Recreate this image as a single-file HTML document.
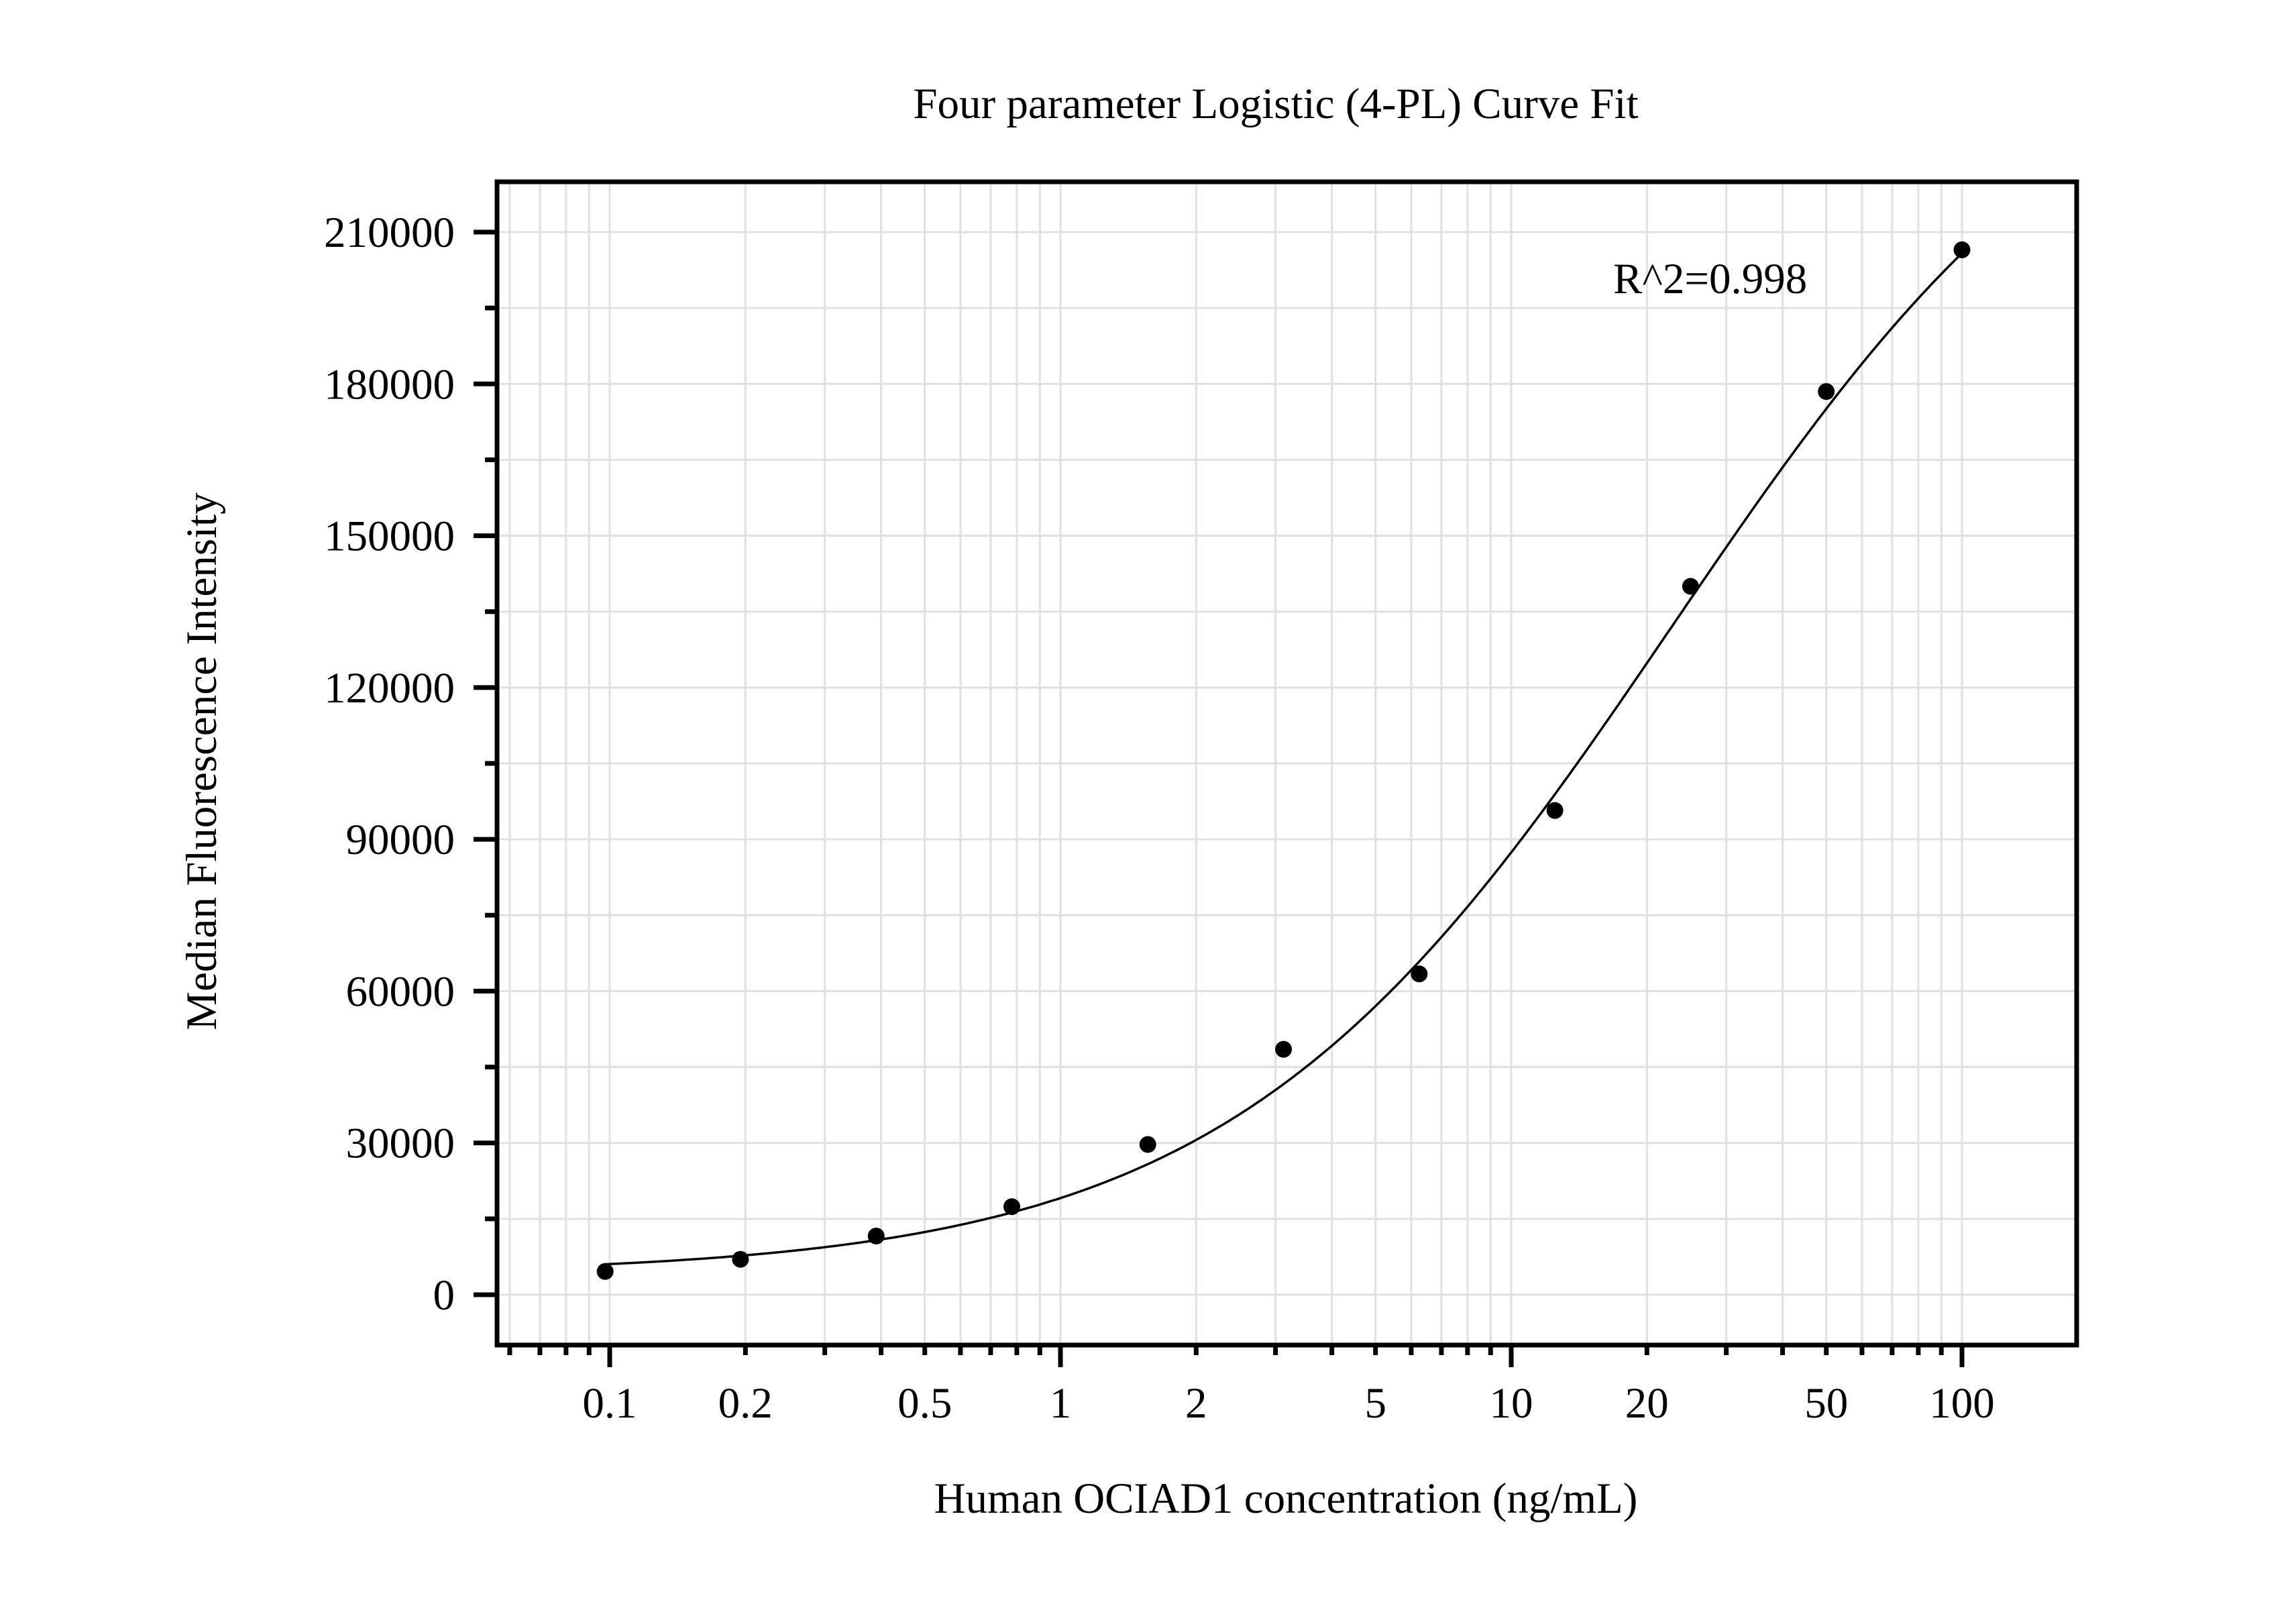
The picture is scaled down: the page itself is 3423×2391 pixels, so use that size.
<!DOCTYPE html>
<html><head><meta charset="utf-8"><style>
body{margin:0;background:#fff}
svg{display:block}
text{font-family:"Liberation Serif","Times New Roman",serif;fill:#000}
</style></head><body>
<svg id="chart" width="3423" height="2391" xmlns="http://www.w3.org/2000/svg">
<rect width="3423" height="2391" fill="#fff"/>
<g id="grid"></g>
<g id="axes"></g>
<g id="series"></g>
<rect x="741" y="271" width="2355" height="1734" fill="none" stroke="#000" stroke-width="7"/>
<text x="1902" y="176" font-size="65" text-anchor="middle">Four parameter Logistic (4-PL) Curve Fit</text>
<text x="1917" y="2255" font-size="65" text-anchor="middle">Human OCIAD1 concentration (ng/mL)</text>
<text transform="translate(322,1135) rotate(-90)" font-size="65" text-anchor="middle">Median Fluorescence Intensity</text>
<text x="2405" y="437" font-size="65">R^2=0.998</text>
</svg>
<script>
const concentrations = [0.0977, 0.195, 0.39, 0.78, 1.5625, 3.125, 6.25, 12.5, 25, 50, 100];
const intensities = [4600, 7000, 11600, 17400, 29700, 48500, 63400, 95700, 140000, 178500, 206500];
const fitParams = [4000, 0.887, 22.7, 260000]; // A, B, C, D of 4-PL
const xTickValues = [0.1, 0.2, 0.5, 1, 2, 5, 10, 20, 50, 100];
const xTickLabels = ["0.1", "0.2", "0.5", "1", "2", "5", "10", "20", "50", "100"];
const yTickValues = [0, 30000, 60000, 90000, 120000, 150000, 180000, 210000];
const yTickLabels = ["0", "30000", "60000", "90000", "120000", "150000", "180000", "210000"];

const NS = "http://www.w3.org/2000/svg";
const X0 = 909, DEC = 672, Y0 = 1930, YS = (1930 - 346) / 210000;
const PL = 744, PR = 3093, PT = 275, PB = 2002;
function sx(v) { return X0 + DEC * Math.log10(v / 0.1); }
function sy(v) { return Y0 - v * YS; }
function mk(tag, attrs, parent) {
  const e = document.createElementNS(NS, tag);
  for (const k in attrs) e.setAttribute(k, attrs[k]);
  parent.appendChild(e);
  return e;
}
const grid = document.getElementById('grid');
const axes = document.getElementById('axes');
const series = document.getElementById('series');

const minorX = [];
for (let d = -2; d <= 2; d++) {
  for (let m = 1; m <= 9; m++) {
    const v = m * Math.pow(10, d);
    if (v >= 0.06 - 1e-9 && v <= 100 + 1e-9) minorX.push(v);
  }
}
minorX.forEach(v => {
  const x = sx(v);
  const g = mk('line', {x1: x, x2: x, y1: PT, y2: PB, stroke: '#e0e0e0', 'stroke-width': 3}, grid);
  
  
  const major = Math.abs(Math.log10(v) - Math.round(Math.log10(v))) < 1e-6;
  const t = mk('line', {x1: x, x2: x, y1: 2005, y2: major ? 2038 : 2020, stroke: '#000', 'stroke-width': 7}, axes);
  
  
});
for (let v = 0; v <= 210000; v += 15000) {
  const y = sy(v);
  const g = mk('line', {x1: PL, x2: PR, y1: y, y2: y, stroke: '#e0e0e0', 'stroke-width': 3}, grid);
  
  
  const major = v % 30000 === 0;
  const t = mk('line', {x1: major ? 706 : 723, x2: 741, y1: y, y2: y, stroke: '#000', 'stroke-width': 7}, axes);
  
  
}
xTickValues.forEach((v, i) => {
  const t = mk('text', {x: sx(v), y: 2113, 'font-size': 65, 'text-anchor': 'middle'}, axes);
  t.textContent = xTickLabels[i];
  
  
});
yTickValues.forEach((v, i) => {
  const t = mk('text', {x: 678, y: sy(v) + 22, 'font-size': 65, 'text-anchor': 'end'}, axes);
  t.textContent = yTickLabels[i];
  
  
});
function fit(x) {
  const [A, B, C, D] = fitParams;
  return D + (A - D) / (1 + Math.pow(x / C, B));
}
let d = '';
const lo = Math.log10(concentrations[0]), hi = Math.log10(concentrations[concentrations.length - 1]);
for (let i = 0; i <= 300; i++) {
  const x = Math.pow(10, lo + (hi - lo) * i / 300);
  d += (i ? 'L' : 'M') + sx(x).toFixed(1) + ',' + sy(fit(x)).toFixed(1);
}
const curve = mk('path', {d: d, fill: 'none', stroke: '#000', 'stroke-width': 3.5}, series);


concentrations.forEach((c, i) => {
  const p = mk('circle', {cx: sx(c), cy: sy(intensities[i]), r: 12.5, fill: '#000'}, series);
  
  
});
</script>
</body></html>
